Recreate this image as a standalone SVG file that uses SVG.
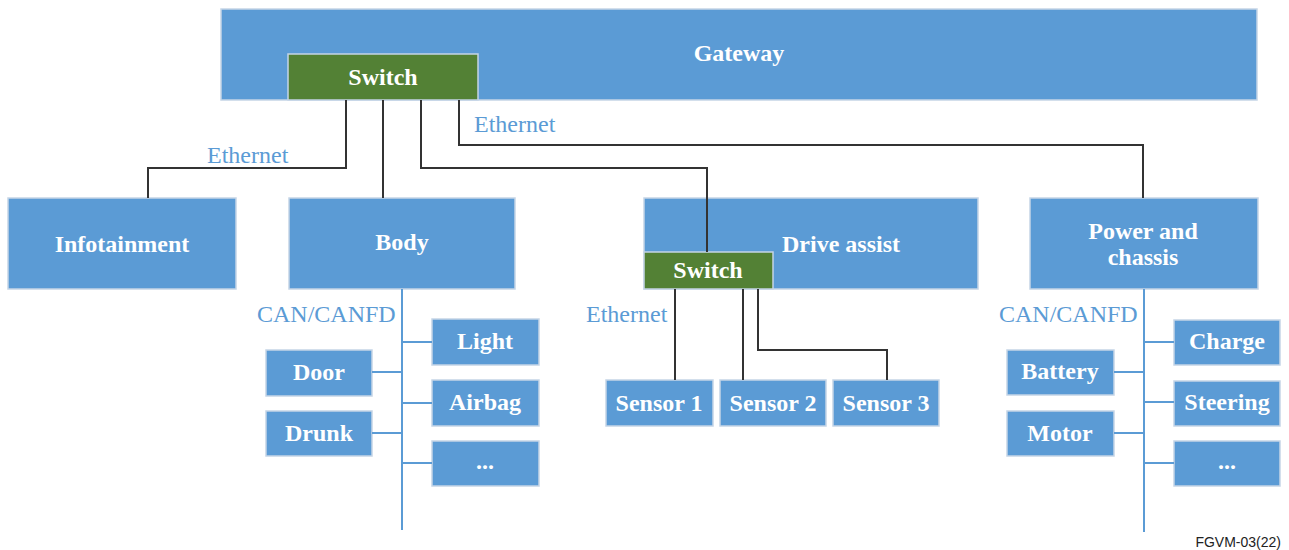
<svg xmlns="http://www.w3.org/2000/svg" width="1289" height="550" viewBox="0 0 1289 550">
<style>
.box{fill:#5B9BD5;stroke:#C5D5E6;stroke-width:1.5}
.sw{fill:#538135;stroke:#C5D5E6;stroke-width:1.5}
.t{font-family:"Liberation Serif",serif;font-weight:bold;font-size:24px;fill:#fff;text-anchor:middle}
.lbl{font-family:"Liberation Serif",serif;font-size:24px;fill:#5B9BD5}
.eth{fill:none;stroke:#333;stroke-width:2}
.bus{fill:none;stroke:#5B9BD5;stroke-width:2}
</style>
<rect width="1289" height="550" fill="#fff"/>
<g id="gateway"><rect class="box" x="221" y="9" width="1036" height="91"/><text class="t" x="739" y="61">Gateway</text></g>
<g id="switch1"><rect class="sw" x="288" y="54" width="190" height="46"/><text class="t" x="383" y="85">Switch</text></g>
<text class="lbl" x="207" y="163">Ethernet</text>
<text class="lbl" x="474" y="132">Ethernet</text>
<text class="lbl" x="586" y="322">Ethernet</text>
<text class="lbl" x="257" y="322">CAN/CANFD</text>
<text class="lbl" x="999" y="322">CAN/CANFD</text>
<g id="infotainment"><rect class="box" x="8" y="198" width="228" height="91"/><text class="t" x="122" y="252">Infotainment</text></g>
<g id="body"><rect class="box" x="289" y="198" width="226" height="91"/><text class="t" x="402" y="250">Body</text></g>
<g id="driveassist"><rect class="box" x="644" y="198" width="334" height="91"/><text class="t" x="841" y="252">Drive assist</text></g>
<g id="switch2"><rect class="sw" x="644" y="252" width="129" height="37"/><text class="t" x="708" y="278">Switch</text></g>
<g id="power"><rect class="box" x="1030" y="198" width="228" height="91"/><text class="t" x="1143" y="239">Power and</text><text class="t" x="1143" y="265">chassis</text></g>
<g id="light"><rect class="box" x="432" y="319" width="107" height="46"/><text class="t" x="485" y="349">Light</text></g>
<g id="airbag"><rect class="box" x="432" y="380" width="107" height="46"/><text class="t" x="485" y="410">Airbag</text></g>
<g id="body-more"><rect class="box" x="432" y="441" width="107" height="45"/><text class="t" x="485" y="469">...</text></g>
<g id="door"><rect class="box" x="266" y="350" width="106" height="46"/><text class="t" x="319" y="380">Door</text></g>
<g id="drunk"><rect class="box" x="266" y="411" width="106" height="45"/><text class="t" x="319" y="441">Drunk</text></g>
<g id="sensor1"><rect class="box" x="606" y="380" width="107" height="46"/><text class="t" x="659" y="411">Sensor 1</text></g>
<g id="sensor2"><rect class="box" x="720" y="380" width="106" height="46"/><text class="t" x="773" y="411">Sensor 2</text></g>
<g id="sensor3"><rect class="box" x="833" y="380" width="106" height="46"/><text class="t" x="886" y="411">Sensor 3</text></g>
<g id="charge"><rect class="box" x="1174" y="320" width="106" height="45"/><text class="t" x="1227" y="349">Charge</text></g>
<g id="steering"><rect class="box" x="1174" y="381" width="106" height="45"/><text class="t" x="1227" y="410">Steering</text></g>
<g id="power-more"><rect class="box" x="1174" y="441" width="106" height="45"/><text class="t" x="1227" y="469">...</text></g>
<g id="battery"><rect class="box" x="1007" y="350" width="107" height="45"/><text class="t" x="1060" y="379">Battery</text></g>
<g id="motor"><rect class="box" x="1007" y="411" width="107" height="45"/><text class="t" x="1060" y="441">Motor</text></g>
<g id="connectors">
<polyline class="eth" points="346,100 346,168 148,168 148,198"/>
<polyline class="eth" points="383,100 383,198"/>
<polyline class="eth" points="421,100 421,168 707,168 707,252"/>
<polyline class="eth" points="459,100 459,145 1143,145 1143,198"/>
<polyline class="eth" points="675,289 675,380"/>
<polyline class="eth" points="743,289 743,380"/>
<polyline class="eth" points="758,289 758,350 887,350 887,380"/>
<path class="bus" d="M402,289V530M402,342H432M372,372H402M402,403H432M372,433H402M402,463H432"/>
<path class="bus" d="M1144,289V532M1144,342H1174M1114,372H1144M1144,402H1174M1114,433H1144M1144,463H1174"/>
</g>
<text x="1281" y="547" font-family="Liberation Sans,Arial,sans-serif" font-size="14" fill="#222" text-anchor="end">FGVM-03(22)</text>
</svg>
